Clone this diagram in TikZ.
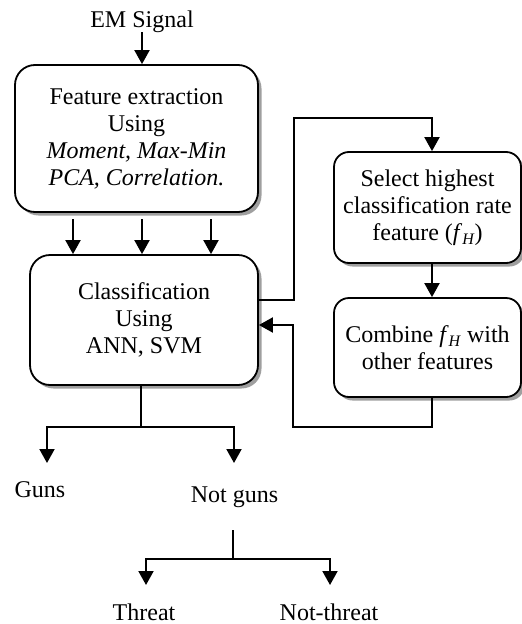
\documentclass[tikz,border=0pt]{standalone}
\usepackage{fontspec}
\setmainfont{Liberation Serif}
\usetikzlibrary{shadows,arrows.meta}
\newcommand{\fH}{\textit{f}\raisebox{-0.35ex}{\fontsize{16}{16}\selectfont\textit{H}}}
\begin{document}
\begin{tikzpicture}[x=1pt,y=-1pt,
  every node/.style={font=\fontsize{24}{27}\selectfont, inner sep=0pt},
  box/.style={draw, line width=1.8pt, fill=white, align=center,
    drop shadow={shadow xshift=3.5pt, shadow yshift=-3.5pt, fill=gray!75, opacity=1}},
  bigbox/.style={box, rounded corners=20pt},
  smallbox/.style={box, rounded corners=15pt},
  conn/.style={line width=2pt},
  arr/.style={conn, -{Triangle[width=15pt,length=14pt]}},
  lbl/.style={anchor=base}]
\useasboundingbox (0,0) rectangle (522,624);

\node[lbl] (em) at (142,27) {EM Signal};
\node[bigbox, minimum width=243pt, minimum height=147pt] (feat) at (136.5,138.5)
  {Feature extraction\\Using\\\textit{Moment, Max-Min}\\\textit{PCA, Correlation.}};
\node[bigbox, minimum width=228pt, minimum height=130pt] (cls) at (144,320)
  {Classification\\Using\\ANN, SVM};
\node[smallbox, minimum width=187pt, minimum height=111pt] (sel) at (427.5,207.5)
  {Select highest\\classification rate\\feature (\fH)};
\node[smallbox, minimum width=187pt, minimum height=99pt] (comb) at (427.5,347.5)
  {Combine \fH\ with\\other features};

\node[lbl] (guns) at (40,497) {Guns};
\node[lbl] (notguns) at (234.5,502) {Not guns};
\node[lbl] (threat) at (144,620) {Threat};
\node[lbl] (notthreat) at (329,620) {Not-threat};

% EM arrow
\coordinate (emtop) at (142,32);
\draw[arr] (emtop) -- (emtop |- feat.north);

% three arrows
\foreach \x/\n in {73/a1,142/a2,211/a3}{
  \coordinate (\n) at (\x,219);
  \draw[arr] (\n) -- (\n |- cls.north);
}

% loop to select
\coordinate (out) at (294,300);
\coordinate (top) at (432,118);
\draw[arr] (cls.east |- out) -- (out) -- (out |- top) -- (top) -- (top |- sel.north);
\draw[arr] (top |- sel.south) -- (top |- comb.north);

% feedback
\coordinate (fb) at (293,427);
\coordinate (fbin) at (293,325);
\draw[arr] (top |- comb.south) -- (top |- fb) -- (fb) -- (fbin) -- (cls.east |- fbin);

% bottom tree 1
\coordinate (t1) at (141,427);
\coordinate (g1) at (47,427);
\coordinate (g2) at (234,427);
\draw[conn] (t1 |- cls.south) -- (t1);
\draw[arr] (t1) -- (g1) -- (47,463);
\draw[arr] (t1) -- (g2) -- (234,463);

% bottom tree 2
\coordinate (t2s) at (233,530);
\coordinate (t2) at (233,559);
\coordinate (h1) at (146,559);
\coordinate (h2) at (330,559);
\draw[conn] (t2s) -- (t2);
\draw[arr] (t2) -- (h1) -- (146,585);
\draw[arr] (t2) -- (h2) -- (330,585);
\end{tikzpicture}
\end{document}
